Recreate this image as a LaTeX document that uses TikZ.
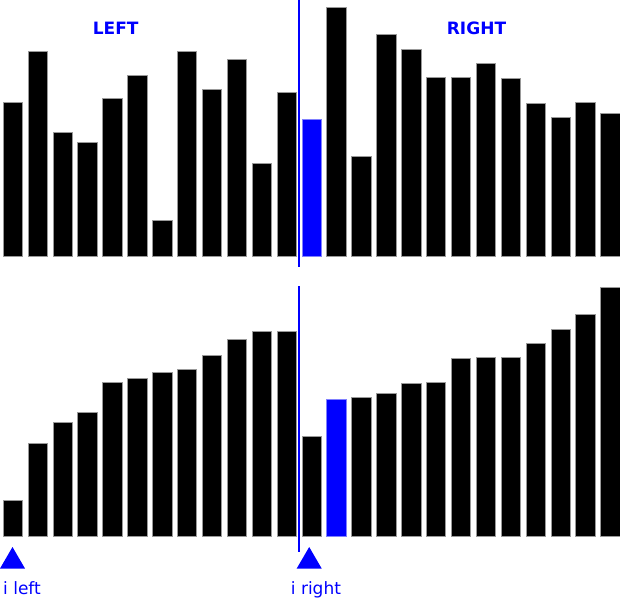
\documentclass[tikz,border=0pt]{standalone}
\usepackage{fontspec}
\setmainfont{DejaVu Sans}
\usepackage{tikz}
\usetikzlibrary{calc}
\definecolor{markblue}{RGB}{0,0,255}
\newcommand{\barstep}{24.9}
\newcommand{\barwidth}{19.4}
\tikzset{
    bar/.style={fill=black, draw=black!40, line width=0.6pt},
    marked/.style={fill=markblue, draw=markblue!50, line width=0.6pt},
    split/.style={draw=markblue, line width=2pt},
    heading/.style={anchor=base west, inner sep=0pt, text=markblue, font=\fontsize{17}{20}\selectfont\bfseries},
    index/.style={anchor=base west, inner sep=0pt, text=markblue, font=\fontsize{17}{20}\selectfont},
    pointer/.style={fill=markblue}
}

\begin{document}
\begin{tikzpicture}[x=1pt, y=-1pt]
      \useasboundingbox (0,0) rectangle (620,598);

      % before the merge
      \foreach \h/\s [count=\i from 0] in {153.3/bar, 205/bar, 124/bar, 114/bar, 157.7/bar, 180.7/bar, 36/bar, 205/bar, 166.7/bar, 197/bar, 92.7/bar, 163.7/bar,
          136.3/marked, 248.7/bar, 100/bar, 222/bar, 207/bar, 178.7/bar, 178.7/bar, 193/bar, 177.7/bar, 152.3/bar, 138.3/bar, 153.3/bar, 142.3/bar}
          \path[\s] ({3+\barstep*\i},256) rectangle ++(\barwidth,-\h);

      \coordinate (top-split-start) at (299,0);
      \coordinate (top-split-end) at (299,267);
      \draw[split] (top-split-start) -- (top-split-end);

      \node[heading] (left) at (92.7,34) {LEFT};
      \node[heading] (right) at (446.7,34) {RIGHT};

      % both halves sorted
      \foreach \h/\s [count=\i from 0] in {36/bar, 92.7/bar, 114/bar, 124/bar, 153.3/bar, 157.7/bar, 163.7/bar, 166.7/bar, 180.7/bar, 197/bar, 205/bar, 205/bar,
          100/bar, 136.3/marked, 138.3/bar, 142.3/bar, 152.3/bar, 153.3/bar, 177.7/bar, 178.7/bar, 178.7/bar, 193/bar, 207/bar, 222/bar, 248.7/bar}
          \path[\s] ({3+\barstep*\i},536) rectangle ++(\barwidth,-\h);

      \coordinate (bottom-split-start) at (299,286);
      \coordinate (bottom-split-end) at (299,552);
      \draw[split] (bottom-split-start) -- (bottom-split-end);

      \coordinate (i-left-tip) at (12.5,547);
      \coordinate (i-right-tip) at (309.2,547);
      \fill[pointer] (i-left-tip) -- ++(12.5,21.5) -- ++(-25,0) -- cycle;
      \fill[pointer] (i-right-tip) -- ++(12.5,21.5) -- ++(-25,0) -- cycle;

      \node[index] (i-left) at (3,594) {i left};
      \node[index] (i-right) at (290.7,594) {i right};
    \end{tikzpicture}
\end{document}
